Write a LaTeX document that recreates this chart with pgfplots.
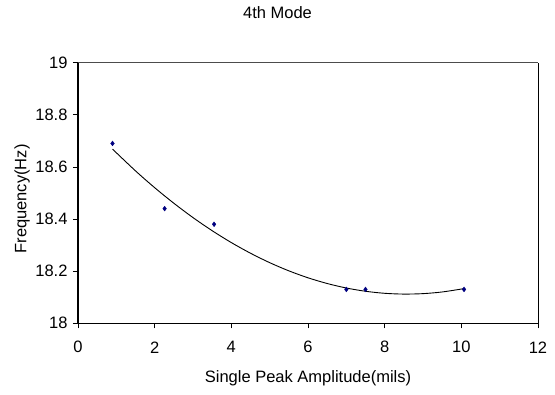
\documentclass[border=0pt]{standalone}
\usepackage{pgfplots}
\pgfplotsset{compat=1.18}
\usepackage{fontspec}
\setmainfont{Liberation Sans}
\newcommand{\ff}{\fontsize{16.5pt}{19pt}\selectfont}
\begin{document}
\begin{tikzpicture}
\begin{axis}[
  scale only axis,
  width=460pt, height=260.6pt,
  at={(0,0)}, anchor=south west,
  xmin=0, xmax=12, ymin=18, ymax=19,
  xtick={0,2,...,12},
  ytick={18,18.2,18.4,18.6,18.8,19},
  /pgf/number format/assume math mode=true,
  tick label style={font=\ff},
  label style={font=\ff},
  title style={font=\ff, at={(0.4337,1)}, anchor=base, yshift=38.4pt},
  title={4th Mode},
  xlabel={Single Peak Amplitude(mils)},
  ylabel={Frequency(Hz)},
  xlabel style={at={(0.5,0)}, anchor=base, yshift=-59.7pt},
  ylabel style={at={(0,0.5)}, anchor=center, yshift=56pt, xshift=-6pt},
  axis line style={draw=none},
  tick align=outside,
  major tick length=5pt,
  tick style={black, line width=0.8pt},
  xticklabel style={anchor=center, yshift=-19pt},
  yticklabel style={anchor=east, xshift=-2pt},
  xtick pos=bottom, ytick pos=left,
  clip=false,
]
\draw[black!70, line width=0.8pt] (rel axis cs:0,1) -- (rel axis cs:1,1);
\draw[black, line width=0.8pt] (rel axis cs:1,0) -- (rel axis cs:1,1);
\draw[black, line width=1.5pt] (rel axis cs:0,1) -- (rel axis cs:0,0) -- (rel axis cs:1,0);
\addplot[black, line width=0.9pt, smooth] coordinates {
(0.9,18.6685) (1.5,18.5849) (2,18.5204) (2.5,18.4607) (3,18.4056) (3.5,18.3553)
(4,18.3097) (4.5,18.2689) (5,18.2327) (5.5,18.2013) (6,18.1746) (6.5,18.1527)
(7,18.1354) (7.5,18.1229) (8,18.1151) (8.5,18.1121) (9,18.1138) (9.5,18.1202) (10.05,18.1326)
};
\addplot[only marks, mark=diamond*, mark size=2.4pt, color={rgb,255:red,0;green,0;blue,128}] coordinates {
(0.9,18.69) (2.26,18.44) (3.55,18.38) (7.0,18.13) (7.5,18.13) (10.07,18.13)
};
\end{axis}
\path[use as bounding box] (-78pt,-71.7pt) rectangle (477pt,323.3pt);
\end{tikzpicture}
\end{document}
